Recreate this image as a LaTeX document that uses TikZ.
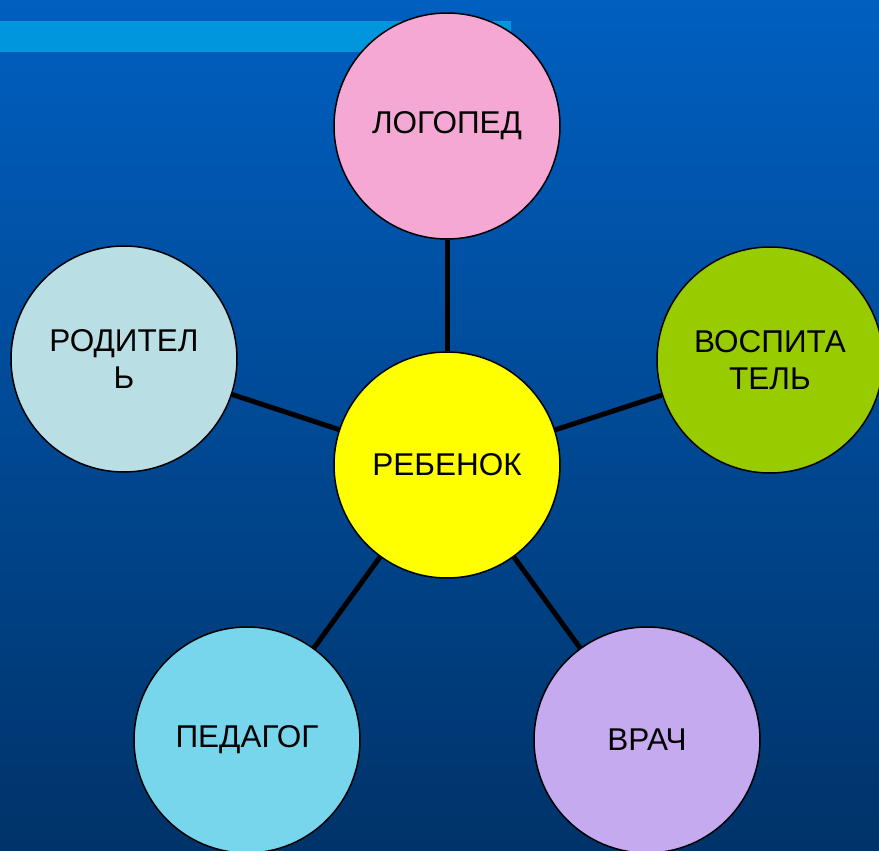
\documentclass[tikz,border=0pt]{standalone}
\usepackage{fontspec}
\setmainfont{Liberation Sans}
\definecolor{bgtop}{RGB}{0,95,192}
\definecolor{bgbot}{RGB}{0,51,105}
\definecolor{barc}{RGB}{0,150,222}
\definecolor{cpink}{RGB}{245,168,212}
\definecolor{cpale}{RGB}{185,222,228}
\definecolor{cgreen}{RGB}{153,204,0}
\definecolor{cyel}{RGB}{255,255,0}
\definecolor{ccyan}{RGB}{120,214,236}
\definecolor{clil}{RGB}{198,170,240}
\begin{document}
\begin{tikzpicture}[x=1pt,y=-1pt,
  bubble/.style={circle,draw=black,line width=1.5pt,minimum size=226pt,inner sep=0pt,
    align=center,font=\fontsize{31.5}{37}\selectfont,text=black},
  link/.style={line width=5pt,black}]
\shade[top color=bgtop,bottom color=bgbot] (0,0) rectangle (879,851);
\useasboundingbox (0,0) rectangle (879,851);
\fill[barc] (0,21) rectangle (511,52);
\node[bubble,fill=cyel] (reb) at (447,465) {РЕБЕНОК};
\node[bubble,fill=cpink] (log) at (447,126) {ЛОГОПЕД};
\node[bubble,fill=cpale] (rod) at (124,359) {РОДИТЕЛ\\Ь};
\node[bubble,fill=cgreen] (vos) at (770,360) {ВОСПИТА\\ТЕЛЬ};
\node[bubble,fill=ccyan] (ped) at (247,740) {ПЕДАГОГ};
\node[bubble,fill=clil] (vra) at (647,740) {ВРАЧ};
\foreach \n in {log,rod,vos,ped,vra}{\draw[link] (reb) -- (\n);}
\end{tikzpicture}
\end{document}
